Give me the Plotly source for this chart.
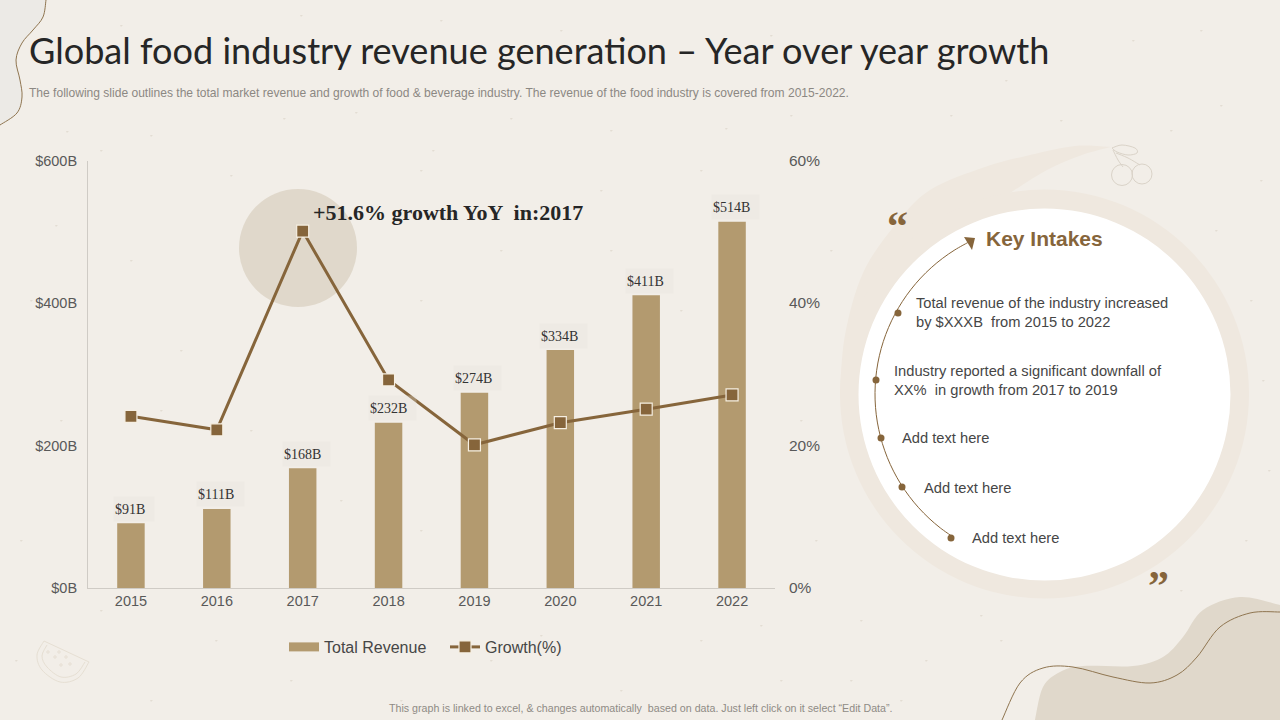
import math
import plotly.graph_objects as go

W = 1280
H = 720

years = ['2015', '2016', '2017', '2018', '2019', '2020', '2021', '2022']
revenue = [91, 111, 168, 232, 274, 334, 411, 514]
growth = [24.1, 22.2, 50.1, 29.2, 20.1, 23.2, 25.1, 27.1]
revenue_labels = ['$91B', '$111B', '$168B', '$232B', '$274B', '$334B', '$411B', '$514B']
revenue_ticks = [0, 200, 400, 600]
revenue_ticktext = ['$0B', '$200B', '$400B', '$600B']
growth_ticks = [0, 20, 40, 60]
growth_ticktext = ['0%', '20%', '40%', '60%']

title_text = 'Global food industry revenue generation – Year over year growth'
subtitle_text = ('The following slide outlines the total market revenue and growth of food & '
                 'beverage industry. The revenue of the food industry is covered from 2015-2022.')
footer_text = 'This graph is linked to excel, & changes automatically  based on data. Just left click on it select “Edit Data”.'

BG = '#F2EEE8'
SAND = '#E0D8CB'
RING = '#EFE8DF'
BROWN = '#86653B'
BAR = '#B39A6F'
INK = '#464646'


# slide pixels -> paper coordinates
def px(x):
    return x / W


def py(y):
    return 1 - y / H


def smooth(pts, close=False):
    # catmull-rom through the points, as an svg path
    d = 'M%.5f,%.5f' % (px(pts[0][0]), py(pts[0][1]))
    for i in range(len(pts) - 1):
        p0 = pts[max(i - 1, 0)]
        p1 = pts[i]
        p2 = pts[i + 1]
        p3 = pts[min(i + 2, len(pts) - 1)]
        c1 = (p1[0] + (p2[0] - p0[0]) / 6, p1[1] + (p2[1] - p0[1]) / 6)
        c2 = (p2[0] - (p3[0] - p1[0]) / 6, p2[1] - (p3[1] - p1[1]) / 6)
        d += ' C%.5f,%.5f %.5f,%.5f %.5f,%.5f' % (px(c1[0]), py(c1[1]), px(c2[0]), py(c2[1]), px(p2[0]), py(p2[1]))
    return d + (' Z' if close else '')


def circle(cx, cy, r, fill, line=None, width=0):
    return dict(type='circle', xref='paper', yref='paper', layer='below',
                x0=px(cx - r), x1=px(cx + r), y0=py(cy + r), y1=py(cy - r),
                fillcolor=fill, line=dict(color=line, width=width) if line else dict(width=0))


def path(d, fill=None, line=None, width=0):
    return dict(type='path', xref='paper', yref='paper', layer='below', path=d,
                fillcolor=fill if fill else 'rgba(0,0,0,0)',
                line=dict(color=line, width=width) if line else dict(width=0))


def note(x, y, text, size, color, family='Liberation Sans', anchor='left', align='left'):
    return dict(xref='paper', yref='paper', x=px(x), y=py(y), text=text, showarrow=False,
                xanchor=anchor, yanchor='middle', align=align, borderpad=0, borderwidth=0,
                font=dict(family=family, size=size, color=color))


# decoration
shapes = []

# top left blob
top_curve = [(46, 0), (43, 17), (33, 30), (22, 43), (16, 60), (20, 80), (22, 97), (17, 113), (0, 125)]
shapes.append(path(smooth(top_curve) + ' L0,%.5f Z' % py(0), fill='#ECEAE6'))
shapes.append(path(smooth(top_curve), line='#8F7550', width=1))

# bottom right blob
blob = [(1035, 720), (1043, 687), (1060, 672), (1083, 666), (1133, 666), (1163, 657),
        (1183, 637), (1203, 610), (1240, 597), (1280, 605)]
shapes.append(path(smooth(blob) + ' L1,0 Z', fill=SAND))
curve = [(1002, 720), (1020, 683), (1043, 668), (1073, 667), (1113, 677), (1150, 683),
         (1177, 675), (1197, 657), (1220, 627), (1250, 613), (1280, 612)]
shapes.append(path(smooth(curve), line='#8F7550', width=1))

# swirl behind the white circle
swirl_tail = [(1111, 147), (1075, 146), (1030, 155), (985, 167), (930, 190), (895, 225),
              (863, 273), (845, 335), (840, 394)]
inner_tail = [(1010, 193), (1047, 170), (1082, 155), (1111, 147)]
shapes.append(path(smooth(swirl_tail) + ' L%.5f,%.5f ' % (px(1044), py(394))
                   + 'L%.5f,%.5f ' % (px(1010), py(193))
                   + smooth(inner_tail).replace('M', 'L', 1) + ' Z', fill=RING))
shapes.append(circle(1044.5, 394, 204.5, RING))
shapes.append(circle(1044.5, 394.5, 186, '#FFFFFF'))

# thin arc with arrow and bullets
arc_cx, arc_cy, arc_r = 1045, 394, 170
arc_pts = []
for deg in range(0, 121, 5):
    a = math.radians(123 + deg)
    arc_pts.append((arc_cx + arc_r * math.cos(a), arc_cy + arc_r * math.sin(a)))
shapes.append(path(smooth(arc_pts), line=BROWN, width=1))
arrow = 'M%.5f,%.5f L%.5f,%.5f L%.5f,%.5f Z' % (px(975), py(238), px(964), py(237), px(972), py(250))
shapes.append(path(arrow, fill=BROWN))
for cx, cy in [(898, 313), (876, 380), (881, 438), (902, 487), (951, 538)]:
    shapes.append(circle(cx, cy, 3.5, BROWN))

# cherries
ICON = '#DAD3C8'
shapes.append(circle(1122, 175, 10.5, None, ICON, 1))
shapes.append(circle(1142, 174, 10, None, ICON, 1))
shapes.append(path(smooth([(1112, 148), (1122, 145), (1135, 148), (1137, 153), (1128, 155), (1117, 152), (1112, 148)]),
                   line=ICON, width=1))
shapes.append(path(smooth([(1113, 150), (1118, 160), (1123, 167)]), line=ICON, width=1))
shapes.append(path(smooth([(1116, 153), (1128, 158), (1140, 165)]), line=ICON, width=1))

# watermelon slice
MELON = '#E6DFD3'
shapes.append(path(smooth([(44, 641), (37, 655), (42, 670), (60, 682), (78, 678), (89, 662)])
                   + ' L%.5f,%.5f Z' % (px(44), py(641)), line=MELON, width=1))
shapes.append(path(smooth([(47, 645), (42, 656), (47, 667), (61, 677), (76, 674), (85, 662)]), line=MELON, width=1))
for cx, cy in [(55, 657), (61, 665), (70, 664), (48, 652), (59, 652), (66, 657)]:
    shapes.append(circle(cx, cy, 1.2, None, MELON, 1))

# growth callout circle
shapes.append(circle(298, 248, 59, SAND))

# paper specks
specks = [(66, 131), (150, 135), (283, 118), (355, 112), (432, 150), (510, 118), (610, 130), (725, 128),
          (790, 115), (880, 60), (1005, 80), (1132, 40), (1220, 105), (1260, 180), (1200, 30), (1250, 300),
          (1268, 470), (830, 250), (800, 420), (815, 540), (860, 620), (925, 660), (980, 615), (780, 680),
          (700, 640), (620, 690), (490, 660), (215, 640), (150, 700), (30, 300), (60, 420), (20, 540),
          (180, 350), (250, 430), (420, 300), (500, 250), (610, 250), (700, 170), (650, 480), (420, 170),
          (100, 150), (230, 175), (130, 260), (55, 225), (160, 410), (340, 500), (420, 530), (600, 190),
          (680, 310), (735, 90), (560, 30), (300, 15), (120, 25), (440, 20), (770, 35), (950, 115),
          (1060, 120), (1170, 130), (1215, 230), (1262, 380), (1245, 540), (1180, 590), (1000, 640),
          (900, 700), (850, 680), (760, 625), (540, 635), (400, 700), (290, 680), (100, 610), (15, 660)]
speck_path = ' '.join('M%.5f,%.5f L%.5f,%.5f L%.5f,%.5f Z' % (px(x), py(y), px(x + 3), py(y), px(x + 1), py(y + 2))
                      for x, y in specks)
shapes.append(path(speck_path, fill='#E3DDD3'))

# text
annotations = [
    note(29, 50, title_text, 36.1, '#262626', family='Lato'),
    note(29, 93, subtitle_text, 12.05, '#8C8883'),
    note(640, 708, footer_text, 10.67, '#8F8B85', anchor='center', align='center'),
    note(313, 212, '<b>+51.6% growth YoY  in:2017</b>', 22, '#262626', family='Liberation Serif'),
    note(986, 239, '<b>Key Intakes</b>', 21, BROWN),
    note(916, 312, 'Total revenue of the industry increased<br>by $XXXB  from 2015 to 2022', 14.7, INK),
    note(894, 380, 'Industry reported a significant downfall of<br>XX%  in growth from 2017 to 2019', 14.7, INK),
    note(902, 438, 'Add text here', 14.7, INK),
    note(924, 488, 'Add text here', 14.7, INK),
    note(972, 538, 'Add text here', 14.7, INK),
    note(897, 226, '<b>“</b>', 42, BROWN, family='Liberation Serif', anchor='center'),
    note(1158, 586, '<b>”</b>', 42, BROWN, family='Liberation Serif', anchor='center'),
]

# bar value labels with their pale plates
for i, (value, label) in enumerate(zip(revenue, revenue_labels)):
    annotations.append(dict(xref='x', yref='y', x=i, y=value, yshift=14.5, xshift=3.5, text=label,
                            showarrow=False, xanchor='center', yanchor='middle',
                            width=38 if len(label) == 4 else 45, height=22,
                            align='left', bgcolor='rgba(228,224,217,0.3)',
                            font=dict(family='Liberation Serif', size=14, color='#333333')))

fig = go.Figure()
fig.add_trace(go.Bar(x=years, y=revenue, name='Total Revenue', width=0.32, showlegend=False,
                     marker=dict(color=BAR, line=dict(width=0))))
# wide legend swatch for the bars, plotly's own bar swatch is a small square
fig.add_trace(go.Scatter(x=[None], y=[None], name='Total Revenue', mode='lines',
                         line=dict(color=BAR, width=9)))
fig.add_trace(go.Scatter(x=years, y=growth, name='Growth(%)', yaxis='y2', mode='lines+markers',
                         line=dict(color=BROWN, width=3),
                         marker=dict(symbol='square', size=12, color=BROWN,
                                     line=dict(color='#F6EFE2', width=1.2))))

fig.update_layout(
    width=W, height=H,
    margin=dict(l=0, r=0, t=0, b=0, autoexpand=False),
    paper_bgcolor=BG,
    plot_bgcolor='rgba(0,0,0,0)',
    font=dict(family='Liberation Sans', color='#595959'),
    shapes=shapes,
    annotations=annotations,
    showlegend=True,
    legend=dict(orientation='h', x=px(284), y=py(647), xanchor='left', yanchor='middle',
                font=dict(size=16, color=INK), bgcolor='rgba(0,0,0,0)', itemwidth=30,
                entrywidth=116, entrywidthmode='pixels'),
    xaxis=dict(domain=[px(88), px(775)], type='category', range=[-0.5, 7.5],
               showline=True, linecolor='#CFCBC5', showgrid=False, ticks='',
               tickfont=dict(size=14.5, color='#595959')),
    yaxis=dict(domain=[py(588), py(160.5)], range=[0, 600], tickvals=revenue_ticks, ticktext=revenue_ticktext,
               showline=True, linecolor='#CFCBC5', showgrid=False, zeroline=False, ticks='',
               ticklabelstandoff=7, tickfont=dict(size=14.5, color='#595959')),
    yaxis2=dict(overlaying='y', side='right', range=[0, 60], tickvals=growth_ticks, ticktext=growth_ticktext,
                showgrid=False, zeroline=False, showline=False, ticks='', ticklabelstandoff=13,
                tickfont=dict(size=15.5, color='#595959')),
)

fig.write_html("out.html", config=dict(displayModeBar=False), post_script="document.body.style.margin='0';")
